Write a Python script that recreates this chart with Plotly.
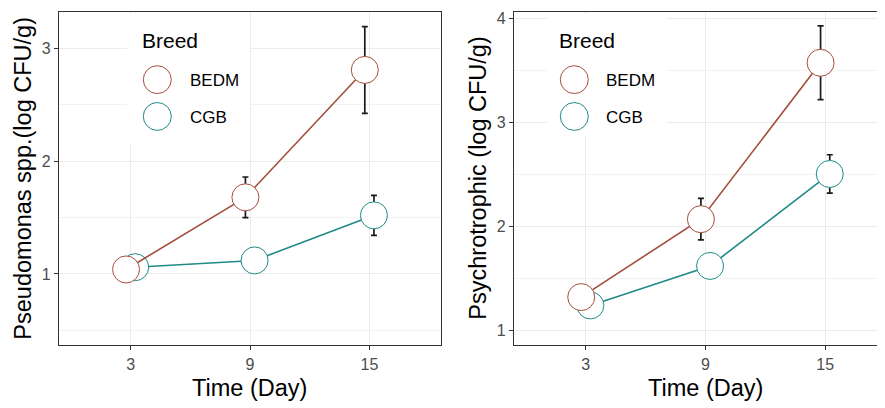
import plotly.graph_objects as go

# ---------------- data ----------------
days = [3, 9, 15]
day_labels = ["3", "9", "15"]
breeds = ["BEDM", "CGB"]

pseudo_bedm = [1.04, 1.68, 2.81]
pseudo_bedm_err = [0.05, 0.18, 0.385]
pseudo_cgb = [1.06, 1.12, 1.52]
pseudo_cgb_err = [0.05, 0.05, 0.177]

psych_bedm = [1.32, 2.07, 3.575]
psych_bedm_err = [0.06, 0.20, 0.355]
psych_cgb = [1.24, 1.62, 2.505]
psych_cgb_err = [0.08, 0.08, 0.185]

# ---------------- style ----------------
# the page body has an 8px margin, so the figure is drawn 8px in from the window corner
OX, OY = 8, 8
W, H = 877, 400
COL = {"BEDM": "#A54E3C", "CGB": "#1F8A86"}
DODGE = {"BEDM": -0.23, "CGB": 0.23}
FONT = "Liberation Sans, Arial, sans-serif"


def px(x):
    return (x - OX) / W


def py(y):
    return 1 - (y - OY) / H


def series(name, vals, errs, xa, ya):
    c = COL[name]
    return go.Scatter(
        x=[d + DODGE[name] for d in days], y=vals,
        mode="lines+markers", name=name, showlegend=False,
        line=dict(color=c, width=1.6),
        marker=dict(size=27, color="white", line=dict(color=c, width=1)),
        error_y=dict(type="data", array=errs, color="#1a1a1a", thickness=1.7, width=3),
        xaxis=xa, yaxis=ya,
    )


fig = go.Figure()
# CGB first so BEDM circles sit on top
fig.add_trace(series("CGB", pseudo_cgb, pseudo_cgb_err, "x", "y"))
fig.add_trace(series("BEDM", pseudo_bedm, pseudo_bedm_err, "x", "y"))
fig.add_trace(series("CGB", psych_cgb, psych_cgb_err, "x2", "y2"))
fig.add_trace(series("BEDM", psych_bedm, psych_bedm_err, "x2", "y2"))

ydom = [py(345), py(10)]
common_x = dict(
    tickvals=days, ticktext=day_labels, showgrid=True, gridcolor="#EBEBEB", gridwidth=1.2,
    showline=True, linecolor="#333333", linewidth=1.3, ticks="outside", ticklen=4,
    tickcolor="#333333", tickwidth=1.1, tickfont=dict(family=FONT, size=16, color="#4D4D4D"),
    zeroline=False, fixedrange=True,
)
common_y = dict(
    showgrid=True, gridcolor="#EBEBEB", gridwidth=1.2,
    showline=True, linecolor="#333333", linewidth=1.3, ticks="outside", ticklen=4,
    tickcolor="#333333", tickwidth=1.1, tickfont=dict(family=FONT, size=16, color="#4D4D4D"),
    zeroline=False, fixedrange=True,
)

fig.update_layout(
    width=W, height=H, margin=dict(l=0, r=0, t=0, b=0),
    paper_bgcolor="white", plot_bgcolor="white", showlegend=False,
    font=dict(family=FONT),
    xaxis=dict(common_x, domain=[px(59), px(441)], range=[-0.6, 18.6], mirror=True, anchor="y"),
    yaxis=dict(common_y, domain=ydom, range=[0.367, 3.324], tickvals=[1, 2, 3], mirror=True,
               anchor="x",
               minor=dict(tickvals=[0.5, 1.5, 2.5], showgrid=True, gridcolor="#F2F2F2",
                          gridwidth=0.8, ticks="")),
    xaxis2=dict(common_x, domain=[px(514), 1.0], range=[-0.6, 18.0], mirror=True, anchor="y2"),
    yaxis2=dict(common_y, domain=ydom, range=[0.856, 4.064], tickvals=[1, 2, 3, 4], mirror=False,
                anchor="x2",
                minor=dict(tickvals=[1.5, 2.5, 3.5], showgrid=True, gridcolor="#F2F2F2",
                           gridwidth=0.8, ticks="")),
)

shapes = []
annotations = []

# legends (drawn manually so the keys keep the plotted marker size)
for box_l, box_r, box_b, title_x, key_x, text_x in [
    (127, 250, 142, 140, 157.3, 188),
    (547, 667, 135, 556.7, 574.3, 604),
]:
    shapes.append(dict(type="rect", xref="paper", yref="paper", layer="above",
                       x0=px(box_l), x1=px(box_r), y0=py(box_b), y1=py(12),
                       fillcolor="white", line=dict(width=0)))
    annotations.append(dict(text="Breed", xref="paper", yref="paper", x=px(title_x), y=py(38.5),
                            xanchor="left", yanchor="middle", showarrow=False,
                            font=dict(family=FONT, size=21, color="black")))
    for name, cy in zip(breeds, [78, 115]):
        r = 14
        shapes.append(dict(type="circle", xref="paper", yref="paper", layer="above",
                           x0=px(key_x - r), x1=px(key_x + r), y0=py(cy + r), y1=py(cy - r),
                           fillcolor="white", line=dict(color=COL[name], width=1)))
        annotations.append(dict(text=name, xref="paper", yref="paper", x=px(text_x), y=py(cy + 1),
                                xanchor="left", yanchor="middle", showarrow=False,
                                font=dict(family=FONT, size=17, color="black")))

# axis titles
for txt, x, y, ang in [
    ("Pseudomonas spp.(log CFU/g)", 23, 177.5, -90),
    ("Psychrotrophic (log CFU/g)", 478, 177.5, -90),
    ("Time (Day)", 250, 388, 0),
    ("Time (Day)", 705.5, 388, 0),
]:
    annotations.append(dict(text=txt, xref="paper", yref="paper", x=px(x), y=py(y),
                            xanchor="center", yanchor="middle", showarrow=False, textangle=ang,
                            font=dict(family=FONT, size=23.5, color="black")))

fig.update_layout(shapes=shapes, annotations=annotations)
fig.write_html("out.html")
